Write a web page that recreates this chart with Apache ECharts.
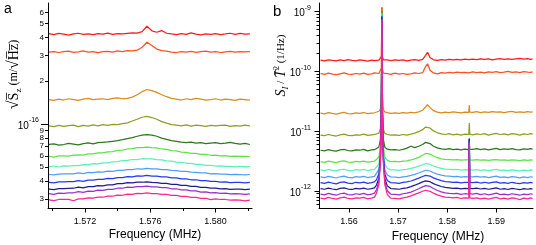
<!DOCTYPE html>
<html><head><meta charset="utf-8">
<script src="https://cdn.jsdelivr.net/npm/echarts@6/dist/echarts.min.js"></script>
<style>html,body{margin:0;padding:0;background:#fff}#c{width:536px;height:245px}</style>
</head><body><div id="c"></div>
<script>
// ---------------- DATA ----------------
// Panel a: sqrt(S_z) in units of 1e-17 m/sqrt(Hz)
const A_UNIT = 1e-17;
const A_FREQ = [1.5698,1.5701,1.5704,1.5707,1.5710,1.5713,1.5716,1.5719,1.5722,1.5725,1.5728,1.5731,1.5734,1.5737,1.5740,1.5743,1.5746,1.5749,1.5752,1.5755,1.5758,1.5761,1.5764,1.5767,1.5770,1.5773,1.5776,1.5779,1.5782,1.5785,1.5788,1.5791,1.5794,1.5797,1.5800,1.5803,1.5806,1.5809,1.5812,1.5815,1.5818,1.5821];
const A_RED    = [42.6,42.0,42.8,42.3,41.7,42.4,42.9,42.2,42.5,41.9,42.7,42.3,43.0,42.1,42.6,42.4,42.8,43.2,43.0,44.0,48.0,44.6,43.6,44.8,42.9,42.4,42.0,42.6,42.2,43.2,42.3,41.8,42.5,42.1,42.7,42.0,42.4,42.9,42.2,42.8,42.3,42.5];
const A_ORANGE = [31.7,32.0,31.5,31.9,32.2,31.6,31.8,32.3,31.7,32.0,31.4,31.9,32.1,31.7,32.3,32.0,32.5,32.3,32.7,34.3,37.1,35.3,33.3,32.5,32.2,31.7,31.5,32.0,31.7,32.1,31.6,31.9,32.2,31.7,32.0,31.5,31.8,32.1,31.7,32.0,31.8,31.9];
const A_GOLD   = [14.8,14.6,14.9,14.7,15.0,14.8,14.6,14.9,15.1,14.8,14.9,15.0,14.8,15.1,15.2,15.0,15.1,15.4,16.0,16.8,17.4,17.1,16.6,16.0,15.5,15.1,14.9,14.7,15.0,14.8,15.1,14.9,14.7,14.8,15.0,14.7,14.9,14.8,14.6,14.9,14.8,14.7];
const A_OLIVE  = [9.7,9.58,9.78,9.62,9.74,9.83,9.6,9.77,9.68,9.85,9.72,9.9,9.78,9.95,9.9,10.05,10.2,10.5,10.8,11.15,11.3,11.1,10.8,10.4,10.15,9.92,9.82,9.7,9.88,9.68,9.82,9.74,9.62,9.8,9.7,9.78,9.84,9.64,9.76,9.68,9.82,9.7];
const A_GREEN  = [7.22,7.28,7.12,7.2,7.32,7.24,7.16,7.3,7.38,7.28,7.42,7.46,7.5,7.58,7.66,7.78,7.92,8.05,8.22,8.36,8.45,8.38,8.22,7.98,7.82,7.66,7.58,7.48,7.42,7.48,7.36,7.43,7.31,7.37,7.42,7.3,7.36,7.46,7.32,7.24,7.32,7.2];
const A_LIME   = [5.95,5.88,5.99,6.01,5.97,6.07,6.1,6.08,6.2,6.2,6.3,6.3,6.4,6.43,6.55,6.58,6.7,6.74,6.85,6.86,6.91,6.85,6.82,6.7,6.65,6.52,6.49,6.38,6.35,6.25,6.24,6.15,6.14,6.06,6.07,6.0,6.02,5.96,5.98,5.95,5.96,5.93];
const A_AQUA   = [5.05,5.1,5.02,5.11,5.1,5.13,5.14,5.22,5.2,5.29,5.28,5.37,5.36,5.46,5.48,5.57,5.58,5.66,5.66,5.73,5.71,5.71,5.64,5.62,5.53,5.51,5.42,5.41,5.33,5.31,5.24,5.23,5.16,5.16,5.1,5.11,5.06,5.07,5.03,5.08,5.02,5.05];
const A_SKY    = [4.45,4.42,4.48,4.49,4.5,4.5,4.57,4.52,4.6,4.58,4.64,4.63,4.7,4.68,4.76,4.75,4.82,4.81,4.88,4.86,4.91,4.87,4.87,4.81,4.81,4.75,4.74,4.68,4.68,4.62,4.61,4.56,4.56,4.5,4.51,4.47,4.48,4.44,4.46,4.45,4.42,4.45];
const A_BLUE   = [3.92,3.89,3.95,3.95,3.97,3.97,4.04,3.99,4.07,4.06,4.12,4.11,4.18,4.17,4.24,4.23,4.3,4.29,4.36,4.34,4.38,4.34,4.34,4.28,4.28,4.22,4.21,4.15,4.15,4.09,4.09,4.03,4.03,3.98,3.99,3.94,3.96,3.91,3.92,3.92,3.89,3.92];
const A_NAVY   = [3.52,3.49,3.55,3.55,3.56,3.57,3.63,3.59,3.66,3.66,3.72,3.71,3.77,3.77,3.84,3.84,3.9,3.89,3.94,3.93,3.96,3.92,3.91,3.86,3.86,3.8,3.8,3.74,3.74,3.68,3.68,3.62,3.62,3.57,3.58,3.54,3.55,3.5,3.52,3.52,3.49,3.52];
const A_PURPLE = [3.27,3.24,3.3,3.29,3.32,3.32,3.38,3.34,3.41,3.4,3.46,3.45,3.51,3.51,3.57,3.57,3.63,3.62,3.67,3.66,3.69,3.65,3.65,3.6,3.6,3.54,3.54,3.48,3.48,3.42,3.42,3.36,3.37,3.32,3.33,3.29,3.3,3.26,3.27,3.26,3.24,3.26];
const A_PINK   = [2.96,2.93,2.98,2.98,2.99,2.92,3.01,3.01,3.06,3.05,3.1,3.09,3.15,3.14,3.2,3.19,3.25,3.24,3.29,3.28,3.31,3.28,3.28,3.23,3.23,3.18,3.18,3.13,3.13,3.08,3.08,3.03,3.04,2.97,3.01,2.98,2.98,2.95,2.96,2.95,2.92,2.95];

// Panel b: S_I / T^2 in units of 1e-12 1/Hz
const B_UNIT = 1e-12;
const B_FREQ = [1.5542,1.5550,1.5558,1.5566,1.5574,1.5582,1.5590,1.5598,1.5606,1.5614,1.5622,1.5630,1.5638,1.5646,1.5652,1.5656,
  1.5661,1.5664,1.5666,1.5667,1.5668,1.5670,1.5673,1.5678,1.5685,
  1.5694,1.5702,1.5710,1.5718,1.5726,1.5734,1.5742,1.5750,1.5756,1.5760,1.5765,1.5772,1.5780,1.5788,1.5796,1.5804,1.5812,1.5820,1.5828,1.5836,
  1.5844,1.5845,1.5846,
  1.5852,1.5860,1.5868,1.5876,1.5884,1.5892,1.5900,1.5908,1.5916,1.5924,1.5932,1.5940,1.5948,1.5956,1.5964,1.5970,1.5974];
const B_RED    = [154,150,156,152,149,155,151,157,153,150,155,152,148,154,151,156, 154,157,178,1180,176,156,152,155,151, 156,152,155,150,154,157,153,158,185,208,170,156,152,157,154,158,155,159,156,160, 157,159,156, 160,157,162,158,161,156,160,163,159,162,158,161,164,160,163,159,162];
const B_ORANGE = [92,89,93,90,88,91,94,90,89,92,90,93,89,91,94,90, 92,94,114,1150,112,93,90,92,89, 93,90,92,89,91,94,92,95,120,134,104,94,91,95,93,96,94,97,95,96, 94,97,95, 98,95,97,94,98,96,99,95,97,100,96,98,95,99,97,96,98];
const B_GOLD   = [20.1,19.5,20.4,19.8,19.3,20.0,20.6,19.7,19.4,20.2,19.8,20.5,19.6,20.1,20.3,20.8, 21.5,23.5,45,1100,44,23,21,20.4,19.9, 20.3,19.8,20.5,20.1,20.6,20.3,21.0,22.4,25.5,27.6,25.0,22.0,20.8,20.3,20.9,20.4,21.0,20.6,20.2,20.8, 20.6,27.2,20.9, 20.7,21.2,20.5,21.0,20.6,21.3,20.8,21.1,20.5,21.0,21.4,20.7,21.1,20.6,21.2,20.9,21.0];
const B_OLIVE  = [8.6,8.4,8.8,8.5,8.3,8.7,8.9,8.5,8.4,8.7,8.6,8.9,8.5,8.7,8.8,9.0, 9.3,10.9,30,1050,29,10.8,9.2,8.8,8.6, 8.7,8.5,8.8,8.6,8.9,9.3,9.8,10.6,11.7,12.3,11.3,10.1,9.4,9.0,8.8,9.1,8.7,8.9,8.6,8.9, 8.8,13.7,8.9, 8.7,9.0,8.8,9.1,8.6,8.9,9.2,8.8,9.0,8.7,9.1,8.9,8.6,9.0,8.8,9.1,8.9];
const B_GREEN  = [4.8,4.7,4.9,4.75,4.65,4.85,4.95,4.75,4.7,4.85,4.8,4.95,4.7,4.85,4.9,5.05, 5.45,7.4,27,1000,26,7.3,5.4,5.0,4.85, 4.9,4.8,4.95,5.2,5.6,5.3,5.6,6.0,6.5,6.7,6.2,5.6,5.25,5.05,4.95,5.1,4.9,5.0,4.85,5.0, 4.9,7.0,4.95, 4.95,5.1,4.9,5.05,4.85,5.0,5.15,4.9,5.05,4.95,5.1,4.9,4.85,5.05,4.95,5.1,5.0];
const B_LIME   = [3.1,3.02,3.15,3.06,2.98,3.12,3.18,3.05,3.0,3.12,3.08,3.16,3.03,3.11,3.15,3.3, 3.7,5.6,25,960,24,5.5,3.65,3.25,3.1, 3.12,3.08,3.15,3.2,3.3,3.45,3.65,3.95,4.25,4.37,4.15,3.85,3.6,3.45,3.38,3.35,3.3,3.33,3.28,3.32, 3.3,7.2,3.32, 3.28,3.34,3.27,3.32,3.25,3.31,3.36,3.27,3.3,3.24,3.32,3.28,3.23,3.3,3.26,3.31,3.28];
const B_AQUA   = [2.25,2.19,2.29,2.22,2.17,2.27,2.31,2.21,2.18,2.27,2.23,2.3,2.2,2.26,2.3,2.45, 2.85,4.75,24,920,23,4.7,2.8,2.4,2.26, 2.26,2.22,2.27,2.3,2.38,2.48,2.6,2.75,2.88,2.9,2.8,2.62,2.48,2.38,2.32,2.3,2.27,2.29,2.24,2.27, 2.26,7.4,2.27, 2.24,2.28,2.22,2.26,2.2,2.25,2.29,2.21,2.24,2.19,2.26,2.22,2.18,2.24,2.2,2.25,2.22];
const B_SKY    = [1.72,1.67,1.75,1.7,1.65,1.73,1.77,1.69,1.66,1.74,1.7,1.76,1.68,1.72,1.76,1.9, 2.3,4.2,23,880,22,4.15,2.25,1.85,1.72, 1.71,1.68,1.73,1.76,1.82,1.9,2.0,2.12,2.22,2.24,2.16,2.02,1.92,1.84,1.79,1.77,1.74,1.76,1.71,1.74, 1.73,7.5,1.74, 1.72,1.76,1.7,1.74,1.68,1.73,1.77,1.69,1.72,1.67,1.74,1.7,1.66,1.72,1.68,1.73,1.7];
const B_BLUE   = [1.38,1.34,1.41,1.36,1.32,1.39,1.42,1.35,1.33,1.4,1.37,1.41,1.34,1.38,1.42,1.55, 1.95,3.8,22,840,21,3.75,1.9,1.5,1.38, 1.37,1.34,1.39,1.42,1.47,1.55,1.64,1.75,1.83,1.85,1.78,1.66,1.56,1.49,1.44,1.42,1.39,1.41,1.37,1.4, 1.39,7.6,1.4, 1.38,1.41,1.36,1.4,1.35,1.39,1.42,1.35,1.38,1.34,1.4,1.36,1.33,1.38,1.35,1.39,1.37];
const B_NAVY   = [1.1,1.07,1.12,1.08,1.05,1.11,1.13,1.08,1.06,1.11,1.09,1.12,1.07,1.1,1.13,1.26, 1.65,3.5,22,800,21,3.45,1.6,1.22,1.1, 1.09,1.07,1.11,1.13,1.18,1.25,1.33,1.42,1.48,1.49,1.43,1.33,1.25,1.19,1.15,1.13,1.11,1.12,1.09,1.11, 1.1,7.3,1.11, 1.1,1.12,1.08,1.11,1.07,1.1,1.13,1.07,1.1,1.06,1.11,1.08,1.05,1.1,1.07,1.1,1.08];
const B_PURPLE = [0.89,0.86,0.91,0.88,0.85,0.9,0.92,0.87,0.86,0.9,0.88,0.91,0.86,0.89,0.92,1.05, 1.45,3.3,21,760,20,3.25,1.4,1.01,0.89, 0.88,0.86,0.9,0.92,0.96,1.02,1.09,1.17,1.23,1.25,1.19,1.1,1.02,0.97,0.93,0.91,0.9,0.91,0.88,0.9, 0.89,6.8,0.9, 0.89,0.91,0.87,0.9,0.86,0.89,0.92,0.87,0.89,0.86,0.9,0.88,0.85,0.89,0.87,0.9,0.88];
const B_PINK   = [0.76,0.74,0.78,0.75,0.73,0.77,0.79,0.75,0.74,0.77,0.76,0.78,0.74,0.76,0.79,0.92, 1.3,3.1,21,720,20,3.05,1.28,0.88,0.76, 0.75,0.74,0.77,0.79,0.83,0.88,0.93,0.99,1.03,1.04,0.99,0.92,0.86,0.82,0.79,0.78,0.77,0.78,0.75,0.77, 0.76,6.3,0.77, 0.75,0.77,0.74,0.76,0.73,0.76,0.78,0.74,0.76,0.73,0.77,0.75,0.72,0.76,0.74,0.77,0.75];

// Tick values
const A_X_MINOR_TICKS = [1.570,1.574,1.578,1.582];
const A_X_LABELS = [1.572,1.576,1.580];
const A_Y_LABELS = [3e-17,4e-17,5e-17,6e-17,7e-17,8e-17,9e-17,2e-16,3e-16,4e-16,5e-16,6e-16];
const A_Y_DECADES = [1e-16];
const B_X_LABELS = [1.56,1.57,1.58,1.59];
const B_Y_DECADES = [1e-12,1e-11,1e-10,1e-9];
const B_Y_MINOR = [6e-13,7e-13,8e-13,9e-13,2e-12,3e-12,4e-12,5e-12,6e-12,7e-12,8e-12,9e-12,2e-11,3e-11,4e-11,5e-11,6e-11,7e-11,8e-11,9e-11,2e-10,3e-10,4e-10,5e-10,6e-10,7e-10,8e-10,9e-10];

// Axis ranges
const A_XMIN = 1.56974, A_XMAX = 1.58223, A_YMIN = 2.6e-17, A_YMAX = 6.97e-16;
const B_XMIN = 1.55389, B_XMAX = 1.59748, B_YMIN = 5.2e-13, B_YMAX = 1.387e-9;

// ---------------- CHART ----------------
const COLORS = ['#ff1a1a','#ff5020','#d88c1c','#8f9e20','#2c781c','#5ee248','#58f2b4','#4e9ff8','#2838f2','#1c1c90','#9a2ed0','#ff2490'];
const A_SERIES = [A_RED,A_ORANGE,A_GOLD,A_OLIVE,A_GREEN,A_LIME,A_AQUA,A_SKY,A_BLUE,A_NAVY,A_PURPLE,A_PINK];
const B_SERIES = [B_RED,B_ORANGE,B_GOLD,B_OLIVE,B_GREEN,B_LIME,B_AQUA,B_SKY,B_BLUE,B_NAVY,B_PURPLE,B_PINK];

const SANS = 'Liberation Sans, Arial, sans-serif';
const SERIF = 'Liberation Serif, Times New Roman, serif';
const lg = Math.log10;
function powLabel(v) {
  const e = Math.round(v);
  if (Math.abs(v - e) < 1e-6) return '{b|10}{sup|' + e + '}';
  return '{d|' + Math.round(Math.pow(10, v - Math.floor(v))) + '}';
}
const POW_RICH = {
  b: {fontSize: 10, lineHeight: 14, verticalAlign: 'bottom', fontFamily: SANS, color: '#000'},
  sup: {fontSize: 7, lineHeight: 8, verticalAlign: 'top', fontFamily: SANS, color: '#000'},
  d: {fontSize: 8, lineHeight: 10, fontFamily: SANS, color: '#000'}
};
const LINE = {show: true, onZero: false, lineStyle: {color: '#000', width: 1}};
const NOLINE = {show: false, onZero: false};
const NOSPLIT = {show: false};
const TICKC = {color: '#000', width: 1};

const series = [];
A_SERIES.forEach((arr, k) => series.push({
  type: 'line', xAxisIndex: 0, yAxisIndex: 0, symbol: 'none', showSymbol: false,
  data: A_FREQ.map((f, i) => [f, arr[i] * A_UNIT]),
  lineStyle: {color: COLORS[k], width: 1.25}, itemStyle: {color: COLORS[k]}
}));
B_SERIES.forEach((arr, k) => series.push({
  type: 'line', xAxisIndex: 2, yAxisIndex: 3, symbol: 'none', showSymbol: false,
  data: B_FREQ.map((f, i) => [f, arr[i] * B_UNIT]),
  lineStyle: {color: COLORS[k], width: 1.25}, itemStyle: {color: COLORS[k]}
}));

const option = {
  animation: false,
  backgroundColor: '#fff',
  grid: [
    {left: 48, top: 3, width: 204, height: 205, outerBoundsMode: 'none'},
    {left: 319, top: 3, width: 214, height: 205, outerBoundsMode: 'none'}
  ],
  xAxis: [
    {gridIndex: 0, type: 'value', position: 'bottom', min: A_XMIN, max: A_XMAX, axisLine: LINE, splitLine: NOSPLIT,
     axisTick: {show: true, length: 3, customValues: A_X_MINOR_TICKS, lineStyle: TICKC}, axisLabel: {show: false},
     name: 'Frequency (MHz)', nameLocation: 'middle', nameGap: 21,
     nameTextStyle: {fontFamily: SANS, fontSize: 12, color: '#000', padding: [0, 0, 0, 10]}},
    {gridIndex: 0, type: 'value', position: 'bottom', min: A_XMIN, max: A_XMAX, axisLine: NOLINE, splitLine: NOSPLIT,
     axisTick: {show: true, length: 4.5, customValues: A_X_LABELS, lineStyle: TICKC},
     axisLabel: {show: true, customValues: A_X_LABELS, formatter: v => v.toFixed(3), fontFamily: SANS, fontSize: 9, margin: 9, color: '#000'}},
    {gridIndex: 1, type: 'value', position: 'bottom', min: B_XMIN, max: B_XMAX, axisLine: LINE, splitLine: NOSPLIT,
     axisTick: {show: true, length: 4.5, customValues: B_X_LABELS, lineStyle: TICKC},
     axisLabel: {show: true, customValues: B_X_LABELS, formatter: v => v.toFixed(2), fontFamily: SANS, fontSize: 9, margin: 9, color: '#000'},
     name: 'Frequency (MHz)', nameLocation: 'middle', nameGap: 21,
     nameTextStyle: {fontFamily: SANS, fontSize: 12, color: '#000', padding: [0, 0, 0, 24]}}
  ],
  yAxis: [
    {gridIndex: 0, type: 'log', position: 'left', min: A_YMIN, max: A_YMAX, axisLine: LINE, splitLine: NOSPLIT,
     axisTick: {show: false}, axisLabel: {show: false}, minorTick: {show: false},
     name: '{r|\u221A}{s|S\u0305}{sb|z}{p| (m/}{r|\u221A}{s|H\u0305z\u0305}{p|)}', nameLocation: 'middle', nameRotate: 90, nameGap: 25,
     nameTextStyle: {fontFamily: SERIF, fontSize: 13, color: '#000', padding: [0, 0, 0, 62],
       rich: {r: {fontFamily: SERIF, fontSize: 16, lineHeight: 18}, s: {fontFamily: SERIF, fontSize: 14, lineHeight: 18},
              sb: {fontFamily: SERIF, fontSize: 9, lineHeight: 9, verticalAlign: 'bottom'}, p: {fontFamily: SERIF, fontSize: 12, lineHeight: 18}}}},
    {gridIndex: 0, type: 'value', position: 'left', min: lg(A_YMIN), max: lg(A_YMAX), axisLine: NOLINE, splitLine: NOSPLIT,
     axisTick: {show: true, length: 3, customValues: A_Y_LABELS.map(lg), lineStyle: TICKC},
     axisLabel: {show: true, customValues: A_Y_LABELS.map(lg), formatter: powLabel, rich: POW_RICH, margin: 4}},
    {gridIndex: 0, type: 'value', position: 'left', min: lg(A_YMIN), max: lg(A_YMAX), axisLine: NOLINE, splitLine: NOSPLIT,
     axisTick: {show: true, length: 7, customValues: A_Y_DECADES.map(lg), lineStyle: TICKC},
     axisLabel: {show: true, customValues: A_Y_DECADES.map(lg), formatter: powLabel, rich: POW_RICH, margin: 9}},
    {gridIndex: 1, type: 'log', position: 'left', min: B_YMIN, max: B_YMAX, axisLine: LINE, splitLine: NOSPLIT,
     axisTick: {show: false}, axisLabel: {show: false}, minorTick: {show: false},
     name: '{i|S}{isb|I}{p| / }{i|T\u0304}{sp|2}{p| (1/Hz)}', nameLocation: 'middle', nameRotate: 90, nameGap: 29,
     nameTextStyle: {fontFamily: SERIF, fontSize: 12, color: '#000', padding: [0, 0, 0, 80],
       rich: {i: {fontFamily: SERIF, fontStyle: 'italic', fontSize: 14, lineHeight: 17},
              isb: {fontFamily: SERIF, fontStyle: 'italic', fontSize: 9, lineHeight: 9, verticalAlign: 'bottom'},
              sp: {fontFamily: SERIF, fontSize: 8, lineHeight: 8, verticalAlign: 'top'},
              p: {fontFamily: SERIF, fontSize: 11, lineHeight: 17}}}},
    {gridIndex: 1, type: 'value', position: 'left', min: lg(B_YMIN), max: lg(B_YMAX), axisLine: NOLINE, splitLine: NOSPLIT,
     axisTick: {show: true, length: 2.5, customValues: B_Y_MINOR.map(lg), lineStyle: TICKC}, axisLabel: {show: false}},
    {gridIndex: 1, type: 'value', position: 'left', min: lg(B_YMIN), max: lg(B_YMAX), axisLine: NOLINE, splitLine: NOSPLIT,
     axisTick: {show: true, length: 4.5, customValues: B_Y_DECADES.map(lg), lineStyle: TICKC},
     axisLabel: {show: true, customValues: B_Y_DECADES.map(lg), formatter: powLabel, rich: POW_RICH, margin: 8}}
  ],
  graphic: [
    {type: 'text', left: 4, top: 2, style: {text: 'a', fontFamily: SANS, fontSize: 14, fill: '#000'}},
    {type: 'text', left: 273, top: 4, style: {text: 'b', fontFamily: SANS, fontSize: 15, fill: '#000'}}
  ],
  series: series
};
const chart = echarts.init(document.getElementById('c'));
chart.setOption(option);
</script>
</body></html>
